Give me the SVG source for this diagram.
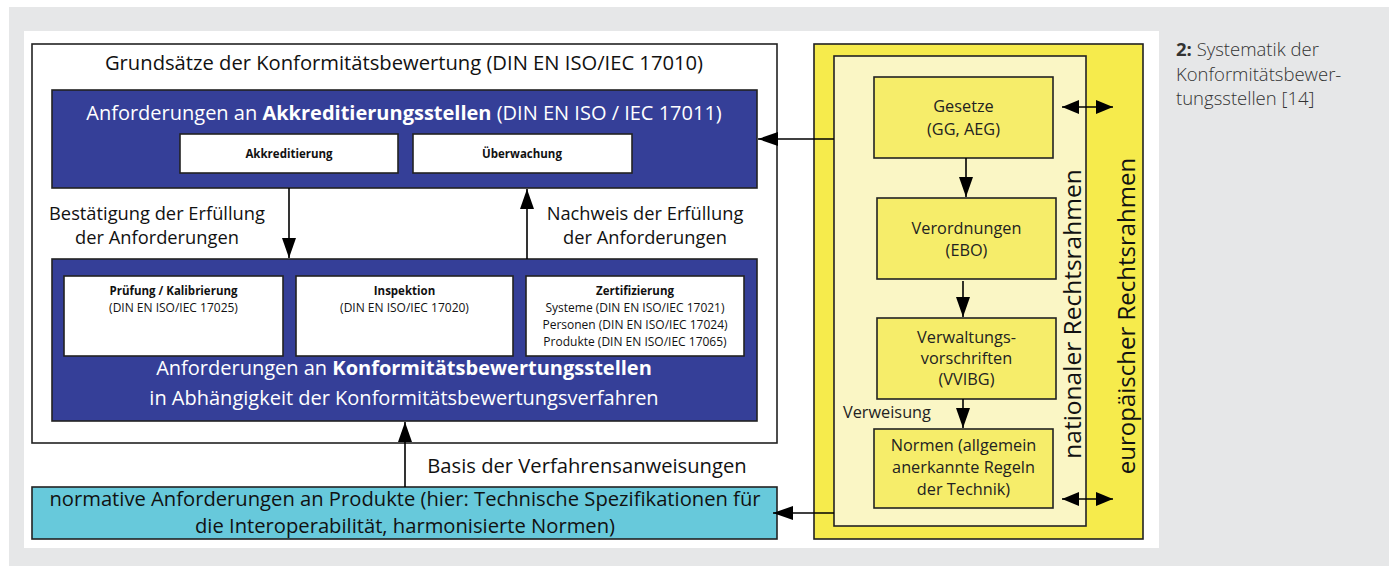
<svg xmlns="http://www.w3.org/2000/svg" width="1389" height="566" viewBox="0 0 1389 566">
<defs>
<marker id="ah" viewBox="0 0 20 14" refX="20" refY="7" markerWidth="20" markerHeight="14" markerUnits="userSpaceOnUse" orient="auto">
<path d="M0,0 L20,7 L0,14 Z" fill="#000"/>
</marker>
<marker id="ahs" viewBox="0 0 17 14" refX="17" refY="7" markerWidth="17" markerHeight="14" markerUnits="userSpaceOnUse" orient="auto-start-reverse">
<path d="M0,0 L17,7 L0,14 Z" fill="#000"/>
</marker>
<style>
text{font-family:"Open Sans","Noto Sans","Liberation Sans",sans-serif;}
.box{stroke:#222;stroke-width:1.6;}
.blue{fill:#353f98;}
.big{font-size:20.2px;fill:#111;}
.lbl{font-size:18.3px;fill:#111;}
.bigw{font-size:20px;fill:#fff;}
.sm{font-size:12px;fill:#111;}
.smb{font-size:11.5px;fill:#111;font-weight:bold;}
.yt{font-size:16.3px;fill:#222;}
.vt{font-size:24px;fill:#111;}
.con{stroke:#000;stroke-width:1.6;fill:none;}
.cap{font-size:18.5px;fill:#333;font-weight:300;}
</style>
</defs>
<rect x="0" y="0" width="1389" height="566" fill="#fff"/>
<rect x="9" y="7" width="1380" height="559" fill="#e6e7e8"/>
<rect x="24" y="31" width="1135" height="517" fill="#fff"/>

<g id="grundsaetze">
<rect class="box" x="32" y="44" width="745" height="399" fill="#fff"/>
<text class="big" x="404" y="70" text-anchor="middle">Grundsätze der Konformitätsbewertung (DIN EN ISO/IEC 17010)</text>
</g>

<g id="akkreditierungsstellen">
<rect class="box blue" x="52" y="90" width="705" height="98"/>
<text class="bigw" x="404" y="120" text-anchor="middle">Anforderungen an <tspan font-weight="bold">Akkreditierungsstellen</tspan> (DIN EN ISO / IEC 17011)</text>
</g>
<g id="akkreditierung">
<rect class="box" x="180" y="134" width="218" height="39" fill="#fff"/>
<text class="smb" x="289" y="158" text-anchor="middle">Akkreditierung</text>
</g>
<g id="ueberwachung">
<rect class="box" x="413" y="134" width="219" height="39" fill="#fff"/>
<text class="smb" x="522" y="158" text-anchor="middle">Überwachung</text>
</g>

<g id="konformitaetsbewertungsstellen">
<rect class="box blue" x="52" y="259" width="705" height="162"/>
<text class="bigw" x="404" y="375" text-anchor="middle">Anforderungen an <tspan font-weight="bold">Konformitätsbewertungsstellen</tspan></text>
<text class="bigw" x="404" y="405" text-anchor="middle">in Abhängigkeit der Konformitätsbewertungsverfahren</text>
</g>
<g id="pruefung">
<rect class="box" x="64" y="276" width="219" height="80" fill="#fff"/>
<text class="smb" x="173.5" y="295" text-anchor="middle">Prüfung / Kalibrierung</text>
<text class="sm" x="173.5" y="312" text-anchor="middle">(DIN EN ISO/IEC 17025)</text>
</g>
<g id="inspektion">
<rect class="box" x="296" y="276" width="217" height="80" fill="#fff"/>
<text class="smb" x="404.5" y="295" text-anchor="middle">Inspektion</text>
<text class="sm" x="404.5" y="312" text-anchor="middle">(DIN EN ISO/IEC 17020)</text>
</g>
<g id="zertifizierung">
<rect class="box" x="526" y="276" width="218" height="80" fill="#fff"/>
<text class="smb" x="635" y="295" text-anchor="middle">Zertifizierung</text>
<text class="sm" x="635" y="312" text-anchor="middle">Systeme (DIN EN ISO/IEC 17021)</text>
<text class="sm" x="635" y="329" text-anchor="middle">Personen (DIN EN ISO/IEC 17024)</text>
<text class="sm" x="635" y="346" text-anchor="middle">Produkte (DIN EN ISO/IEC 17065)</text>
</g>

<g id="normative">
<rect class="box" x="32" y="487" width="745" height="52" fill="#67c9db"/>
<text class="big" x="405" y="506" text-anchor="middle">normative Anforderungen an Produkte (hier: Technische Spezifikationen für</text>
<text class="big" x="405" y="533" text-anchor="middle">die Interoperabilität, harmonisierte Normen)</text>
</g>

<g id="europaeisch">
<rect class="box" x="814" y="44" width="329" height="495" fill="#f6eb4c"/>
<text class="vt" transform="translate(1135,316) rotate(-90)" text-anchor="middle">europäischer Rechtsrahmen</text>
</g>
<g id="national">
<rect class="box" x="834" y="56" width="252" height="470" fill="#faf6c5"/>
<text class="vt" font-size="24.5" transform="translate(1081,314) rotate(-90)" text-anchor="middle" style="font-size:24.5px">nationaler Rechtsrahmen</text>
</g>
<g id="gesetze">
<rect class="box" x="874" y="77" width="179" height="81" fill="#f6ed6a"/>
<text class="yt" x="963.5" y="112" text-anchor="middle">Gesetze</text>
<text class="yt" x="963.5" y="135" text-anchor="middle">(GG, AEG)</text>
</g>
<g id="verordnungen">
<rect class="box" x="877" y="198" width="179" height="81" fill="#f6ed6a"/>
<text class="yt" x="966.5" y="234" text-anchor="middle">Verordnungen</text>
<text class="yt" x="966.5" y="256" text-anchor="middle">(EBO)</text>
</g>
<g id="verwaltungsvorschriften">
<rect class="box" x="877" y="318" width="179" height="81" fill="#f6ed6a"/>
<text class="yt" x="966.5" y="343" text-anchor="middle">Verwaltungs-</text>
<text class="yt" x="966.5" y="364" text-anchor="middle">vorschriften</text>
<text class="yt" x="966.5" y="385" text-anchor="middle">(VVIBG)</text>
</g>
<g id="normen">
<rect class="box" x="874" y="429" width="179" height="79" fill="#f6ed6a"/>
<text class="yt" x="963.5" y="451" text-anchor="middle">Normen (allgemein</text>
<text class="yt" x="963.5" y="473" text-anchor="middle">anerkannte Regeln</text>
<text class="yt" x="963.5" y="495" text-anchor="middle">der Technik)</text>
</g>

<g id="connectors">
<line class="con" x1="289" y1="188" x2="289" y2="258" marker-end="url(#ah)"/>
<line class="con" x1="527" y1="259" x2="527" y2="189" marker-end="url(#ah)"/>
<line class="con" x1="405" y1="487" x2="405" y2="422" marker-end="url(#ah)"/>
<line class="con" x1="834" y1="139" x2="758" y2="139" marker-end="url(#ah)"/>
<line class="con" x1="834" y1="513" x2="773" y2="513" marker-end="url(#ah)"/>
<line class="con" x1="966" y1="158" x2="966" y2="197" marker-end="url(#ah)"/>
<line class="con" x1="963" y1="281" x2="963" y2="317" marker-end="url(#ah)"/>
<line class="con" x1="963" y1="399" x2="963" y2="428" marker-end="url(#ah)"/>
<line class="con" x1="1062" y1="107" x2="1113" y2="107" marker-start="url(#ahs)" marker-end="url(#ahs)"/>
<line class="con" x1="1062" y1="499" x2="1113" y2="499" marker-start="url(#ahs)" marker-end="url(#ahs)"/>
</g>

<g id="labels">
<text class="lbl" x="157" y="220" text-anchor="middle">Bestätigung der Erfüllung</text>
<text class="lbl" x="157" y="244" text-anchor="middle">der Anforderungen</text>
<text class="lbl" x="645" y="220" text-anchor="middle">Nachweis der Erfüllung</text>
<text class="lbl" x="645" y="244" text-anchor="middle">der Anforderungen</text>
<text class="big" x="587" y="473" text-anchor="middle">Basis der Verfahrensanweisungen</text>
<text class="yt" x="843" y="418">Verweisung</text>
</g>

<g id="caption">
<text class="cap" x="1176" y="56"><tspan font-weight="bold">2:</tspan> Systematik der</text>
<text class="cap" x="1176" y="81">Konformitätsbewer-</text>
<text class="cap" x="1176" y="105">tungsstellen [14]</text>
</g>
</svg>
